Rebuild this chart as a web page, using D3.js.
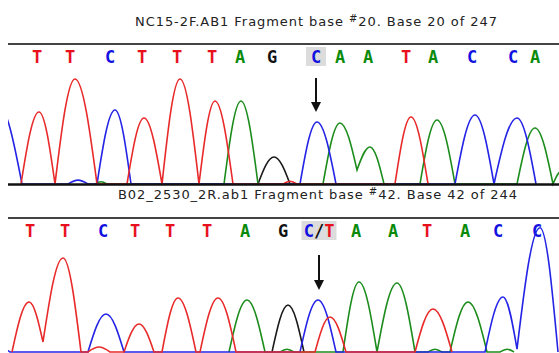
<!DOCTYPE html>
<html>
<head>
<meta charset="utf-8">
<script src="https://cdn.jsdelivr.net/npm/d3@7"></script>
<style>
  html, body { margin: 0; padding: 0; background: #fff; }
  svg { display: block; }
</style>
</head>
<body>
<svg id="chart"></svg>
<script>
// ---- top trace: NC15-2F ----
var topTitle = "NC15-2F.AB1 Fragment base #20. Base 20 of 247";
var topBases = ["T","T","C","T","T","T","A","G","C","A","A","T","A","C","C","A"];
var topBaseScans = [37,70,110,142,177,212,240,272,316,340,368,406,433,472,513,535];
var topCallIndex = 8;

var topT = [[21,0],[39,655],[55,0],[75,955],[97,0],[127,0],[144,600],[162,0],[180,955],[199,0],
  [215,755],[233,0],[283,0],[290,25],[297,0],[395,0],[411,609],[428,0]];
var topC = [[-2,720],[22,0],[68,0],[78,35],[88,0],[97,0],[115,673],[131,0],[300,0],[317,564],
  [336,0],[455,0],[475,627],[494,0],[517,600],[536,0]];
var topA = [[95,0],[101,20],[107,0],[224,0],[241,755],[258,0],[323,0],[340,555],[357,127],
  [370,336],[384,0],[420,0],[437,582],[455,0],[517,0],[535,509],[553,0],[562,120]];
var topG = [[258,0],[274,245],[290,0]];

// ---- bottom trace: B02_2530_2R ----
var botTitle = "B02_2530_2R.ab1 Fragment base #42. Base 42 of 244";
var botBases = ["T","T","C","T","T","T","A","G","C/T","A","A","T","A","C","C"];
var botBaseScans = [30,65,103,135,170,207,245,283,319,356,393,427,465,498,537];
var botCallIndex = 8;

var botT = [[12,0],[29,455],[43,91],[63,855],[81,0],[88,0],[99,45],[110,0],[124,0],[139,255],
  [154,0],[162,0],[178,491],[196,0],[200,0],[218,491],[236,0],[315,0],[330,318],[346,0],
  [415,0],[433,391],[452,0]];
var botC = [[0,40],[10,0],[88,0],[106,345],[124,0],[300,0],[318,473],[336,0],[485,0],[503,500],
  [517,27],[540,1130],[558,0]];
var botA = [[229,0],[247,473],[265,0],[280,0],[287,25],[294,0],[343,0],[359,636],[377,0],
  [397,627],[415,0],[428,0],[435,25],[442,0],[450,0],[468,455],[487,0],[500,0],[507,25],[514,0]];
var botG = [[272,0],[288,427],[304,0]];

var width = 559, height = 353;
var baseColor = { A: "#0a8a0a", C: "#1010e0", G: "#111111", T: "#e8101c", "/": "#111111" };
var traceColor = { A: "#1c8c1c", C: "#2424e6", G: "#1a1a1a", T: "#e82a2a" };

var svg = d3.select("#chart")
  .attr("width", width)
  .attr("height", height)
  .style("font-family", "'DejaVu Sans', sans-serif");

svg.append("defs").append("clipPath").attr("id", "plotclip")
  .append("rect").attr("x", 8).attr("y", 0).attr("width", width - 8).attr("height", height);

var x = d3.scaleLinear().domain([0, 559]).range([0, 559]);

// peaks get a rounded top, feet and valleys stay sharp like the ABI viewer
function isPeak(pts, i) {
  var v = pts[i][1];
  if (v <= 0) return false;
  var l = i > 0 ? pts[i - 1][1] : -Infinity;
  var r = i < pts.length - 1 ? pts[i + 1][1] : -Infinity;
  return v >= l && v >= r;
}

function tracePath(pts, y) {
  var p = d3.path();
  p.moveTo(x(pts[0][0]), y(pts[0][1]));
  for (var i = 1; i < pts.length; i++) {
    var x0 = x(pts[i - 1][0]), y0 = y(pts[i - 1][1]);
    var x1 = x(pts[i][0]), y1 = y(pts[i][1]);
    var dx = x1 - x0, dy = y1 - y0;
    if (pts[i - 1][1] === pts[i][1]) { p.lineTo(x1, y1); continue; }
    var c1x, c1y, c2x, c2y;
    if (isPeak(pts, i - 1)) { c1x = x0 + dx * 0.37; c1y = y0; }
    else { c1x = x0 + dx * 0.3; c1y = y0 + dy * 0.47; }
    if (isPeak(pts, i)) { c2x = x1 - dx * 0.37; c2y = y1; }
    else { c2x = x1 - dx * 0.3; c2y = y1 - dy * 0.47; }
    p.bezierCurveTo(c1x, c1y, c2x, c2y, x1, y1);
  }
  return p.toString();
}

function drawPanel(o) {
  var y = d3.scaleLinear().domain([0, 1000]).range([o.baseline, o.baseline - 110]);

  // title
  var t = svg.append("text")
    .attr("x", o.titleX)
    .attr("y", o.titleY)
    .attr("font-size", 13)
    .attr("fill", "#222")
    .attr("textLength", o.titleW)
    .attr("lengthAdjust", "spacing");
  var parts = o.title.split("#");
  t.append("tspan").text(parts[0]);
  t.append("tspan").attr("font-size", 10).attr("dy", -4).text("#");
  t.append("tspan").attr("dy", 4).text(parts[1]);

  // separator
  svg.append("line")
    .attr("x1", 8).attr("x2", width)
    .attr("y1", o.ruleY).attr("y2", o.ruleY)
    .attr("stroke", "#444").attr("stroke-width", 2);

  // highlight box behind current base call
  var cx = x(o.scans[o.callIndex]);
  var bw = o.bases[o.callIndex].length > 1 ? 35 : 20;
  svg.append("rect")
    .attr("x", cx - bw / 2).attr("y", o.letterY - 16)
    .attr("width", bw).attr("height", 19)
    .attr("fill", "#dcdcdc");

  // base letters
  var g = svg.append("g");
  o.bases.forEach(function (b, i) {
    var txt = g.append("text")
      .attr("x", x(o.scans[i]))
      .attr("y", o.letterY)
      .attr("text-anchor", "middle")
      .attr("font-family", "'DejaVu Sans Mono', monospace")
      .attr("font-weight", "bold")
      .attr("font-size", 17);
    b.split("").forEach(function (ch) {
      txt.append("tspan").attr("fill", baseColor[ch]).text(ch);
    });
  });

  // arrow
  svg.append("line")
    .attr("x1", cx).attr("x2", cx)
    .attr("y1", o.arrowTop).attr("y2", o.arrowBottom - 6)
    .attr("stroke", "#111").attr("stroke-width", 2);
  svg.append("path")
    .attr("d", "M" + (cx - 5) + "," + (o.arrowBottom - 10) + "L" + (cx + 5) + "," + (o.arrowBottom - 10) +
      "L" + cx + "," + o.arrowBottom + "Z")
    .attr("fill", "#111");

  // traces
  var tg = svg.append("g").attr("clip-path", "url(#plotclip)");
  [["G", o.G], ["A", o.A], ["C", o.C], ["T", o.T]].forEach(function (c) {
    tg.append("path")
      .attr("d", tracePath(c[1], y))
      .attr("fill", "none")
      .attr("stroke", traceColor[c[0]])
      .attr("stroke-width", 1.6);
  });

  if (o.drawBaseline) {
    svg.append("line")
      .attr("x1", 8).attr("x2", width)
      .attr("y1", o.baseline + 0.5).attr("y2", o.baseline + 0.5)
      .attr("stroke", "#111").attr("stroke-width", 2.5);
  }
}

drawPanel({
  title: topTitle, titleX: 135, titleY: 26, titleW: 362, ruleY: 44,
  bases: topBases, scans: topBaseScans, callIndex: topCallIndex, letterY: 63,
  arrowTop: 78, arrowBottom: 112, baseline: 184,
  T: topT, C: topC, A: topA, G: topG, drawBaseline: true
});

drawPanel({
  title: botTitle, titleX: 118, titleY: 199, titleW: 399, ruleY: 218,
  bases: botBases, scans: botBaseScans, callIndex: botCallIndex, letterY: 237,
  arrowTop: 255, arrowBottom: 290, baseline: 352,
  T: botT, C: botC, A: botA, G: botG, drawBaseline: false
});
</script>
</body>
</html>
